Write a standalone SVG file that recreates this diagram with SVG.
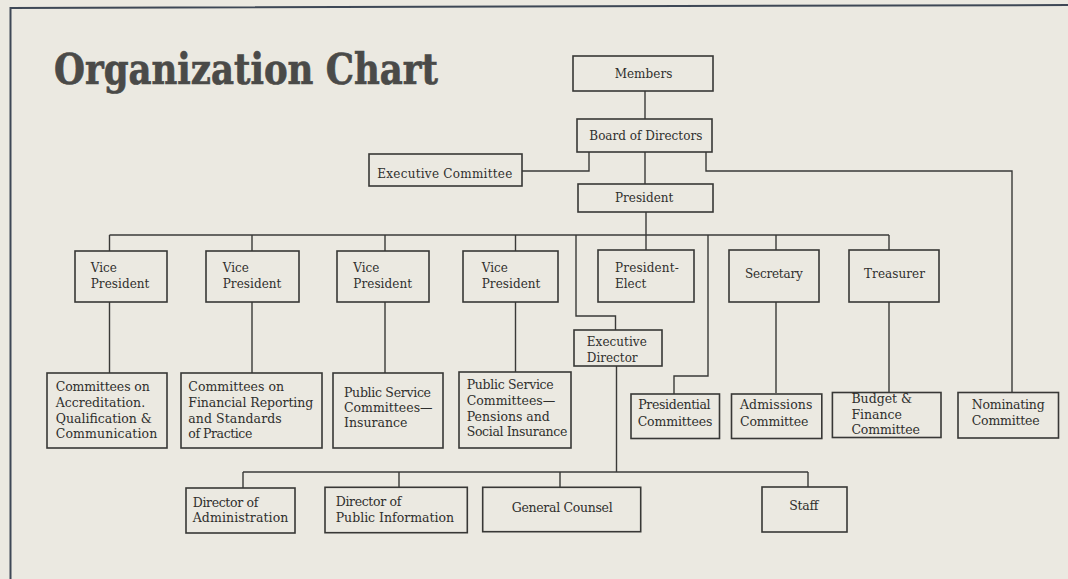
<svg xmlns="http://www.w3.org/2000/svg" width="1068" height="579" viewBox="0 0 1068 579">
<style>
.bg{fill:#ebe9e1}
.frame{fill:none;stroke:#3e4856;stroke-width:2}
.box{fill:none;stroke:#383836;stroke-width:1.6}
.con{fill:none;stroke:#3a3a38;stroke-width:1.4}
.t{font-family:"DejaVu Serif","Liberation Serif",serif;font-size:12px;fill:#2f2f2d}
.s{font-size:12.5px}
.c{text-anchor:middle}
.title{font-family:"DejaVu Serif","Liberation Serif",serif;font-weight:bold;font-size:42px;fill:#4a4a48;stroke:#4a4a48;stroke-width:0.7}
</style>
<rect class="bg" x="0" y="0" width="1068" height="579"/>
<path class="frame" d="M10.5,579 V8 L1068,5"/>
<text class="title" x="54" y="84" textLength="384" lengthAdjust="spacingAndGlyphs">Organization Chart</text>

<g id="connectors">
<path class="con" d="M645,91 V119"/>
<path class="con" d="M645,152 V184"/>
<path class="con" d="M646,212 V250"/>
<path class="con" d="M589,152 V171 H522"/>
<path class="con" d="M706,152 V171 H1012 V392.5"/>
<path class="con" d="M109.5,235 H889"/>
<path class="con" d="M109.5,235 V251 M252,235 V251 M385,235 V251 M515.5,235 V251"/>
<path class="con" d="M109.5,302 V373 M252,302 V373 M385,302 V373 M515.5,302 V372"/>
<path class="con" d="M576,235 V316 H615.5 V330"/>
<path class="con" d="M708,235 V376 H674 V394"/>
<path class="con" d="M776,235 V250 M776,302 V393"/>
<path class="con" d="M889,235 V250 M889,302 V392.5"/>
<path class="con" d="M616.5,366 V472"/>
<path class="con" d="M243,472 H808"/>
<path class="con" d="M243,472 V488 M399,472 V487 M560,472 V487 M808,472 V487"/>
</g>

<g id="members"><rect class="box" x="573" y="56" width="140" height="35"/><text class="t c" x="643.5" y="78" textLength="57.7">Members</text></g>
<g id="board"><rect class="box" x="577" y="119" width="135" height="33"/><text class="t" x="589.3" y="140" textLength="113">Board of Directors</text></g>
<g id="exec-committee"><rect class="box" x="369" y="154" width="153" height="32"/><text class="t" x="377.3" y="178" textLength="135">Executive Committee</text></g>
<g id="president"><rect class="box" x="578" y="184" width="135" height="28"/><text class="t" x="615" y="202" textLength="58.3">President</text></g>

<g id="vp1"><rect class="box" x="75" y="251" width="92" height="51"/><text class="t" x="90.7" y="272.3">Vice</text><text class="t" x="90.7" y="288.3" textLength="58.7">President</text></g>
<g id="vp2"><rect class="box" x="206" y="251" width="93" height="51"/><text class="t" x="222.7" y="272.3">Vice</text><text class="t" x="222.7" y="288.3" textLength="58.7">President</text></g>
<g id="vp3"><rect class="box" x="337" y="251" width="92" height="51"/><text class="t" x="353.3" y="272.3">Vice</text><text class="t" x="353.3" y="288.3" textLength="58.7">President</text></g>
<g id="vp4"><rect class="box" x="463" y="251" width="95" height="51"/><text class="t" x="481.7" y="272.3">Vice</text><text class="t" x="481.7" y="288.3" textLength="58.7">President</text></g>
<g id="president-elect"><rect class="box" x="598" y="250" width="96" height="52"/><text class="t" x="615" y="271.7" textLength="63.8">President-</text><text class="t" x="615" y="287.5">Elect</text></g>
<g id="secretary"><rect class="box" x="729" y="250" width="90" height="52"/><text class="t" x="745" y="278.3" textLength="57.7">Secretary</text></g>
<g id="treasurer"><rect class="box" x="849" y="250" width="90" height="52"/><text class="t" x="864" y="278.3" textLength="61">Treasurer</text></g>
<g id="exec-director"><rect class="box" x="574" y="330" width="88" height="36"/><text class="t" x="586.8" y="345.8" textLength="60">Executive</text><text class="t" x="586.8" y="361.8">Director</text></g>

<g id="comm-accreditation"><rect class="box" x="47" y="373" width="120" height="75"/>
<text class="t s" x="55.7" y="391" textLength="94">Committees on</text>
<text class="t s" x="55.7" y="406.7">Accreditation.</text>
<text class="t s" x="55.7" y="422.7">Qualification &amp;</text>
<text class="t s" x="55.7" y="438" textLength="101.6">Communication</text></g>
<g id="comm-financial"><rect class="box" x="181" y="373" width="141" height="75"/>
<text class="t s" x="188.3" y="391" textLength="95.7">Committees on</text>
<text class="t s" x="188.3" y="406.7" textLength="125">Financial Reporting</text>
<text class="t s" x="188.3" y="422.7" textLength="93.4">and Standards</text>
<text class="t s" x="188.3" y="438" textLength="64">of Practice</text></g>
<g id="ps-insurance"><rect class="box" x="333" y="373" width="110" height="75"/>
<text class="t s" x="344" y="396.7" textLength="87">Public Service</text>
<text class="t s" x="344" y="411.7">Committees—</text>
<text class="t s" x="344" y="427.3">Insurance</text></g>
<g id="ps-pensions"><rect class="box" x="459" y="372" width="112" height="76"/>
<text class="t s" x="466.7" y="389.3" textLength="87">Public Service</text>
<text class="t s" x="466.7" y="405">Committees—</text>
<text class="t s" x="466.7" y="420.7">Pensions and</text>
<text class="t s" x="466.7" y="435.7" textLength="100.6">Social Insurance</text></g>
<g id="presidential-committees"><rect class="box" x="631" y="394" width="88.5" height="44.5"/>
<text class="t s" x="638.3" y="409.3" textLength="72.3">Presidential</text>
<text class="t s" x="637.7" y="425.7" textLength="74.7">Committees</text></g>
<g id="admissions"><rect class="box" x="731.5" y="394" width="90.3" height="44.5"/>
<text class="t s" x="740" y="409.3" textLength="72.3">Admissions</text>
<text class="t s" x="740" y="425.7" textLength="68.3">Committee</text></g>
<g id="budget-finance"><rect class="box" x="832.4" y="392.5" width="108.6" height="45"/>
<text class="t s" x="851.4" y="403.3">Budget &amp;</text>
<text class="t s" x="851.4" y="418.7">Finance</text>
<text class="t s" x="851.4" y="434" textLength="68.5">Committee</text></g>
<g id="nominating"><rect class="box" x="958" y="392.5" width="100.5" height="45.5"/>
<text class="t s" x="971.7" y="408.5" textLength="73">Nominating</text>
<text class="t s" x="971.7" y="424.5" textLength="68">Committee</text></g>

<g id="dir-admin"><rect class="box" x="186" y="488" width="109" height="45"/>
<text class="t s" x="192.7" y="506.7" textLength="65.6">Director of</text>
<text class="t s" x="192.7" y="522.3" textLength="95.7">Administration</text></g>
<g id="dir-public-info"><rect class="box" x="325" y="487.3" width="142.3" height="45.4"/>
<text class="t s" x="335.7" y="506" textLength="65.6">Director of</text>
<text class="t s" x="335.7" y="521.7" textLength="118.3">Public Information</text></g>
<g id="general-counsel"><rect class="box" x="482.7" y="487.3" width="158" height="44.4"/>
<text class="t s" x="511.7" y="511.7" textLength="101">General Counsel</text></g>
<g id="staff"><rect class="box" x="762" y="487" width="85" height="45"/>
<text class="t s" x="789.3" y="510" textLength="29">Staff</text></g>
</svg>
